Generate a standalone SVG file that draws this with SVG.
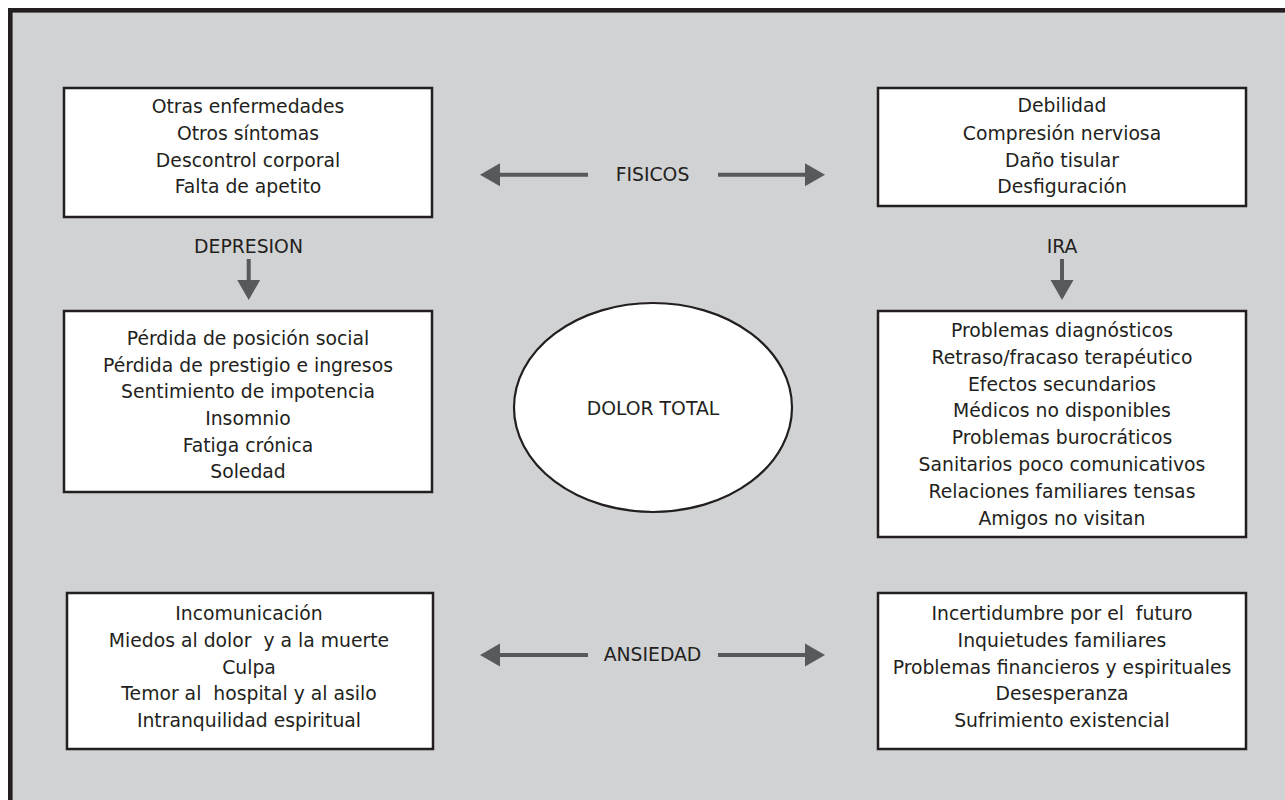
<svg xmlns="http://www.w3.org/2000/svg" width="1285" height="800" viewBox="0 0 1285 800">
<style>
.box{fill:#ffffff;stroke:#231f20;stroke-width:2.5}
.t{font-family:"DejaVu Sans",Verdana,sans-serif;font-size:18.8px;fill:#231f20;text-anchor:middle}
.arr{stroke:#58595b;stroke-width:4;fill:none;marker-end:url(#ah)}
</style>
<defs>
<marker id="ah" markerUnits="userSpaceOnUse" markerWidth="20" markerHeight="24" refX="0" refY="11.5" orient="auto" viewBox="0 0 20 23">
<path d="M0,0 L20,11.5 L0,23 Z" fill="#58595b"/>
</marker>
</defs>
<rect id="frame" x="10.3" y="10.3" width="1300" height="820" fill="#d1d2d4" stroke="#231f20" stroke-width="4.6"/>
<g id="connectors">
<path class="arr" d="M588,174.7 L500,174.7"/>
<path class="arr" d="M718,174.7 L805,174.7"/>
<path class="arr" d="M248.7,259 L248.7,280"/>
<path class="arr" d="M1062,259 L1062,280"/>
<path class="arr" d="M588,655 L500,655"/>
<path class="arr" d="M718,655 L805,655"/>
</g>
<g id="labels">
<text class="t" x="652.5" y="180.5">FISICOS</text>
<text class="t" x="248.5" y="252.7">DEPRESION</text>
<text class="t" x="1062" y="252.7">IRA</text>
<text class="t" x="652.5" y="661">ANSIEDAD</text>
</g>
<g id="fisicos-izq">
<rect class="box" x="64" y="88" width="368" height="129"/>
<text class="t" x="248" y="113.3">Otras enfermedades</text>
<text class="t" x="248" y="140">Otros síntomas</text>
<text class="t" x="248" y="166.7">Descontrol corporal</text>
<text class="t" x="248" y="193.3">Falta de apetito</text>
</g>
<g id="fisicos-der">
<rect class="box" x="878" y="88" width="368" height="118"/>
<text class="t" x="1062" y="112.3">Debilidad</text>
<text class="t" x="1062" y="140">Compresión nerviosa</text>
<text class="t" x="1062" y="167">Daño tisular</text>
<text class="t" x="1062" y="193.3">Desfiguración</text>
</g>
<g id="depresion">
<rect class="box" x="64" y="311" width="368" height="181"/>
<text class="t" x="248" y="345">Pérdida de posición social</text>
<text class="t" x="248" y="371.7">Pérdida de prestigio e ingresos</text>
<text class="t" x="248" y="398.3">Sentimiento de impotencia</text>
<text class="t" x="248" y="425">Insomnio</text>
<text class="t" x="248" y="451.7">Fatiga crónica</text>
<text class="t" x="248" y="477.5">Soledad</text>
</g>
<g id="dolor-total">
<ellipse cx="653" cy="407.5" rx="139" ry="104.5" fill="#ffffff" stroke="#231f20" stroke-width="2.2"/>
<text class="t" x="653" y="415">DOLOR TOTAL</text>
</g>
<g id="ira">
<rect class="box" x="878" y="311" width="368" height="226"/>
<text class="t" x="1062" y="336.7">Problemas diagnósticos</text>
<text class="t" x="1062" y="363.6">Retraso/fracaso terapéutico</text>
<text class="t" x="1062" y="390.5">Efectos secundarios</text>
<text class="t" x="1062" y="417.4">Médicos no disponibles</text>
<text class="t" x="1062" y="444.3">Problemas burocráticos</text>
<text class="t" x="1062" y="471.2">Sanitarios poco comunicativos</text>
<text class="t" x="1062" y="498.1">Relaciones familiares tensas</text>
<text class="t" x="1062" y="525">Amigos no visitan</text>
</g>
<g id="ansiedad-izq">
<rect class="box" x="67" y="593" width="366" height="156"/>
<text class="t" x="249" y="620">Incomunicación</text>
<text class="t" x="249" y="647" xml:space="preserve">Miedos al dolor  y a la muerte</text>
<text class="t" x="249" y="674">Culpa</text>
<text class="t" x="249" y="700" xml:space="preserve">Temor al  hospital y al asilo</text>
<text class="t" x="249" y="727">Intranquilidad espiritual</text>
</g>
<g id="ansiedad-der">
<rect class="box" x="878" y="593" width="368" height="156"/>
<text class="t" x="1062" y="620" xml:space="preserve">Incertidumbre por el  futuro</text>
<text class="t" x="1062" y="647">Inquietudes familiares</text>
<text class="t" x="1062" y="674">Problemas financieros y espirituales</text>
<text class="t" x="1062" y="700">Desesperanza</text>
<text class="t" x="1062" y="727">Sufrimiento existencial</text>
</g>
</svg>
